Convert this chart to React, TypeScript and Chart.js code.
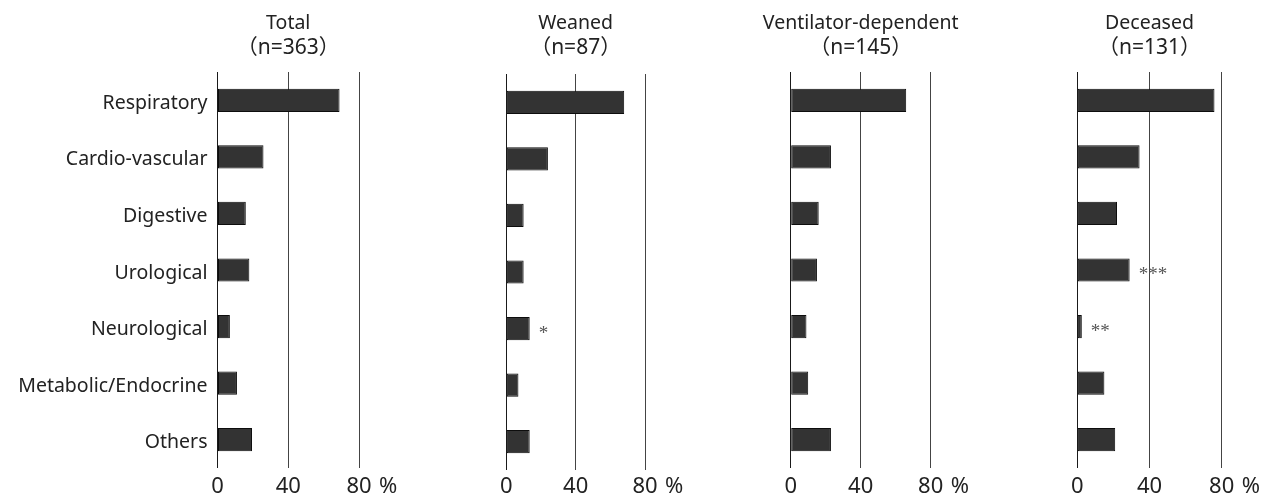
import React, { useEffect, useRef } from 'react';
import { Chart, registerables } from 'chart.js';

Chart.register(...registerables);

// ---- data ----
const categories = [
  'Respiratory',
  'Cardio-vascular',
  'Digestive',
  'Urological',
  'Neurological',
  'Metabolic/Endocrine',
  'Others',
];
const totalValues = [69, 26, 16, 18, 7, 11, 19.5];
const weanedValues = [68, 24, 10, 10, 13.5, 7, 13.5];
const ventilatorValues = [66, 23, 16, 15, 9, 10, 23];
const deceasedValues = [76, 34.5, 22, 29, 2.5, 15, 21];

const totalMarks = ['', '', '', '', '', '', ''];
const weanedMarks = ['', '', '', '', '*', '', ''];
const ventilatorMarks = ['', '', '', '', '', '', ''];
const deceasedMarks = ['', '', '', '***', '**', '', ''];

const panelTitles = ['Total', 'Weaned', 'Ventilator-dependent', 'Deceased'];
const panelCounts = ['（n=363）', '（n=87）', '（n=145）', '（n=131）'];
const xTickValues = [0, 40, 80];
const xUnit = '%';

const panelValues = [totalValues, weanedValues, ventilatorValues, deceasedValues];
const panelMarks = [totalMarks, weanedMarks, ventilatorMarks, deceasedMarks];

// ---- layout ----
const H = 498;
const panelLayout = [
  { x0: 217.5, x80: 359, top: 72, bottom: 468, labels: true },
  { x0: 506.3, x80: 645, top: 74, bottom: 470, labels: false },
  { x0: 790.7, x80: 930.7, top: 72, bottom: 468, labels: false },
  { x0: 1077.3, x80: 1221.7, top: 72, bottom: 468, labels: false },
];

const FONT = '"Noto Sans", "Noto Sans CJK JP", sans-serif';
const TEXT = '#222';

function Panel({ idx }: { idx: number }) {
  const ref = useRef<HTMLCanvasElement | null>(null);
  const lay = panelLayout[idx];
  const canvasLeft = lay.labels ? 0 : Math.floor(lay.x0) - 80;
  const canvasRight = Math.ceil(lay.x80) + 60;
  const width = canvasRight - canvasLeft;

  useEffect(() => {
    if (!ref.current) return;
    const values = panelValues[idx];
    const marks = panelMarks[idx];
    const padRight = canvasRight - lay.x80;

    const decor = {
      id: 'decor' + idx,
      afterDraw(chart: any) {
        const ctx = chart.ctx;
        const area = chart.chartArea;
        const xs = chart.scales.x;
        ctx.save();
        // titles
        const cx = (area.left + area.right) / 2;
        ctx.fillStyle = TEXT;
        ctx.textAlign = 'center';
        ctx.textBaseline = 'alphabetic';
        ctx.font = `19.5px ${FONT}`;
        ctx.fillText(panelTitles[idx], cx, 28.5);
        ctx.font = `21px ${FONT}`;
        ctx.fillText(panelCounts[idx], cx, 53.5);
        // unit
        ctx.textAlign = 'left';
        ctx.font = `22px ${FONT}`;
        ctx.fillText(xUnit, xs.getPixelForValue(80) + 20, 493);
        // significance marks
        const meta = chart.getDatasetMeta(0);
        ctx.font = '19px "Liberation Serif", serif';
        ctx.fillStyle = '#555';
        meta.data.forEach((bar: any, i: number) => {
          if (marks[i]) ctx.fillText(marks[i], bar.x + 9, bar.y + 10);
        });
        ctx.restore();
      },
    };

    const chart = new Chart(ref.current, {
      type: 'bar',
      data: {
        labels: categories,
        datasets: [
          {
            data: values,
            backgroundColor: '#333333',
            borderColor: '#0d0d0d',
            borderWidth: 1,
            borderSkipped: false,
            categoryPercentage: 1,
            barPercentage: 0.41,
          },
        ],
      },
      options: {
        indexAxis: 'y',
        responsive: false,
        animation: false,
        events: [],
        layout: {
          padding: {
            top: lay.top,
            bottom: 0,
            left: 0,
            right: padRight,
          },
        },
        plugins: {
          legend: { display: false },
          tooltip: { enabled: false },
          title: { display: false },
        },
        scales: {
          x: {
            type: 'linear',
            min: 0,
            max: 80,
            afterBuildTicks: (s: any) => {
              s.ticks = xTickValues.map((v) => ({ value: v }));
            },
            afterFit: (s: any) => {
              s.height = H - lay.bottom;
            },
            grid: {
              display: true,
              drawTicks: false,
              color: (c: any) => (c.tick && c.tick.value === 0 ? '#1a1a1a' : '#444'),
              lineWidth: 1,
            },
            border: { display: false },
            ticks: {
              padding: 6 - (lay.bottom - 468),
              maxRotation: 0,
              minRotation: 0,
              color: TEXT,
              font: { family: FONT, size: 22 },
            },
          },
          y: {
            type: 'category',
            display: true,
            offset: true,
            afterFit: (s: any) => {
              s.width = lay.x0 - canvasLeft;
            },
            grid: { display: false, drawTicks: false },
            border: { display: false },
            ticks: {
              display: lay.labels,
              padding: 10,
              labelOffset: 3,
              color: TEXT,
              font: { family: FONT, size: 19.5 },
            },
          },
        },
      },
      plugins: [decor],
    } as any);
    return () => chart.destroy();
  }, [idx]);

  return (
    <canvas
      ref={ref}
      width={width}
      height={H}
      style={{ position: 'absolute', left: canvasLeft, top: 0, width, height: H }}
    />
  );
}

export default function App() {
  return (
    <div style={{ position: 'absolute', left: 0, top: 0, width: 1272, height: H, background: '#fff' }}>
      {panelLayout.map((_, i) => (
        <Panel key={i} idx={i} />
      ))}
    </div>
  );
}
